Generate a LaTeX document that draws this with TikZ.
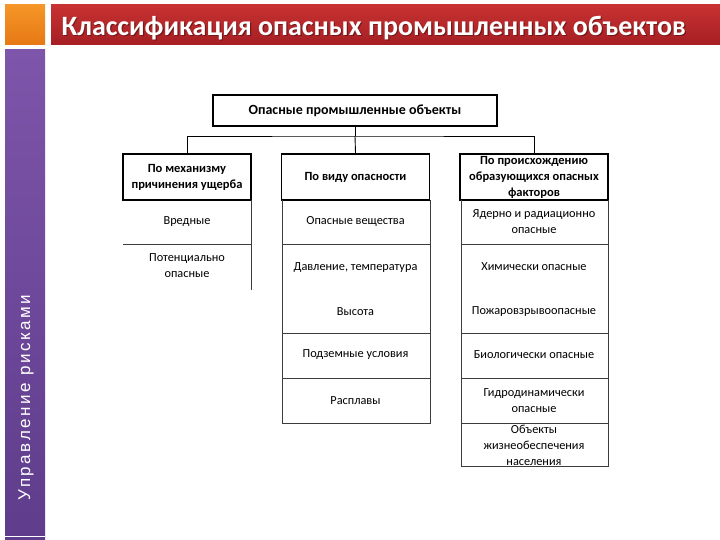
\documentclass[tikz,border=0pt]{standalone}
\usepackage{fontspec}
\setmainfont{Carlito}
\newfontfamily\sidefont[LetterSpace=15]{Liberation Sans}
\definecolor{orT}{RGB}{245,150,40}
\definecolor{orB}{RGB}{230,120,20}
\definecolor{rdT}{RGB}{200,50,50}
\definecolor{rdB}{RGB}{165,30,35}
\definecolor{puT}{RGB}{125,85,170}
\definecolor{puB}{RGB}{95,60,140}
\definecolor{cline}{RGB}{60,60,60}
\tikzset{
  hdr/.style={draw=black, line width=1.7pt, align=center, inner sep=1pt,
    font=\bfseries\fontsize{12.5}{16}\selectfont},
  cell/.style={align=center, inner sep=0pt, font=\fontsize{12.3}{16}\selectfont},
  conn/.style={draw=black, line width=0.9pt},
  grid/.style={draw=cline, line width=0.8pt}
}
\begin{document}
\begin{tikzpicture}[x=1pt,y=-1pt]
\useasboundingbox (0,0) rectangle (720,540);
\fill[white] (0,0) rectangle (720,540);
% decorations
\shade[top color=orT, bottom color=orB] (5,5) rectangle (45,45);
\shade[top color=rdT, bottom color=rdB] (51,5) rectangle (720,45);
\shade[top color=puT, bottom color=puB] (5,50) rectangle (45,540);
\draw[white, line width=0.8pt] (5,536) -- (45,536);
\node[anchor=west, text=black, opacity=0.35, font=\bfseries\fontsize{28}{32}\selectfont] (titlesh) at (59.2,29.2) {Классификация опасных промышленных объектов};
\node[anchor=west, text=white, font=\bfseries\fontsize{28}{32}\selectfont] (title) at (58,28) {Классификация опасных промышленных объектов};
\node[rotate=90, anchor=west, text=white, font=\sidefont\fontsize{17}{20}\selectfont] (side) at (26,504) {Управление рисками};
% header boxes
\node[hdr, minimum width=284, minimum height=31, font=\bfseries\fontsize{14}{17}\selectfont] (top) at (355,110.5) {Опасные промышленные объекты};
\node[hdr, minimum width=128, minimum height=46] (b1) at (187,177) {По механизму\\причинения ущерба};
\node[hdr, minimum width=148, minimum height=46] (b2) at (355.5,177) {По виду опасности};
\node[hdr, minimum width=148, minimum height=46] (b3) at (534,177) {По происхождению\\образующихся опасных\\факторов};
\coordinate (j) at (355,136);
\draw[conn] (top.south) -- (j);
\draw[conn] (b1.north) |- (j) -| (b3.north);
\draw[conn] (j) -- (b2.north);
% column 1
\draw[grid] (251,200) -- (251,290);
\draw[grid] (123,244) -- (251,244);
% column 2
\draw[grid] (282,200) -- (282,423) -- (430,423) -- (430,200);
\foreach \yy in {244,333,378} \draw[grid] (282,\yy) -- (430,\yy);
% column 3
\draw[grid] (461,200) -- (461,466) -- (608,466) -- (608,200);
\foreach \yy in {244,333,378,423} \draw[grid] (461,\yy) -- (608,\yy);
% cells column 1
\node[cell] (c11) at (187,222) {Вредные};
\node[cell] (c12) at (187,266) {Потенциально\\опасные};
% cells column 2
\node[cell] (c21) at (355.5,222) {Опасные вещества};
\node[cell] (c22) at (355.5,268) {Давление, температура};
\node[cell] (c23) at (355.5,312) {Высота};
\node[cell] (c24) at (355.5,355) {Подземные условия};
\node[cell] (c25) at (355.5,401) {Расплавы};
% cells column 3
\node[cell] (c31) at (534,222) {Ядерно и радиационно\\опасные};
\node[cell] (c32) at (534,267) {Химически опасные};
\node[cell] (c33) at (534,312) {Пожаровзрывоопасные};
\node[cell] (c34) at (534,355) {Биологически опасные};
\node[cell] (c35) at (534,400.5) {Гидродинамически\\опасные};
\node[cell] (c36) at (534,445) {Объекты\\жизнеобеспечения\\населения};
\end{tikzpicture}
\end{document}
